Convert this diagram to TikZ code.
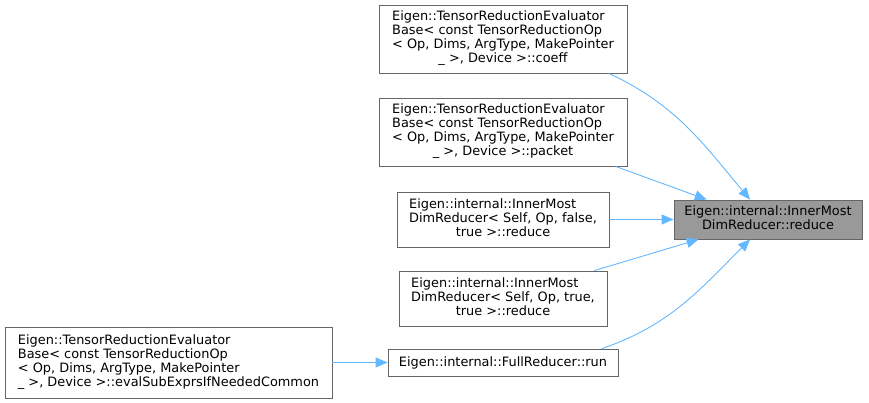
\documentclass[tikz,border=0pt]{standalone}
\usepackage{fontspec}
\setmainfont{DejaVu Sans}
\usetikzlibrary{arrows.meta}
\definecolor{edgeblue}{HTML}{63B8FF}
\definecolor{boxline}{HTML}{666666}
\definecolor{rootfill}{HTML}{999999}
\newcommand{\dlines}[2]{\begin{tabular}{@{}l@{}}#1\\\multicolumn{1}{@{}c@{}}{#2}\end{tabular}}
\tikzset{fn/.style={draw=boxline,fill=white,line width=0.8pt,inner sep=0pt,
    font=\fontsize{12.9}{14}\selectfont}}

\begin{document}
\begin{tikzpicture}[x=1pt,y=-1pt]
        \useasboundingbox (0,0) rectangle (869,403);

        \node[fn,fill=rootfill,minimum width=188pt,minimum height=39pt] (red) at (768,219.5)
            {\dlines{Eigen::internal::InnerMost}{DimReducer::reduce}};
        \node[fn,minimum width=248pt,minimum height=68pt] (coeff) at (503,39)
            {\dlines{Eigen::TensorReductionEvaluator\\Base< const TensorReductionOp\\< Op, Dims, ArgType, MakePointer}{\_ >, Device >::coeff}};
        \node[fn,minimum width=248pt,minimum height=68pt] (packet) at (503,132)
            {\dlines{Eigen::TensorReductionEvaluator\\Base< const TensorReductionOp\\< Op, Dims, ArgType, MakePointer}{\_ >, Device >::packet}};
        \node[fn,minimum width=212pt,minimum height=55pt] (redf) at (503,219.5)
            {\dlines{Eigen::internal::InnerMost\\DimReducer< Self, Op, false,}{true >::reduce}};
        \node[fn,minimum width=208pt,minimum height=55pt] (redt) at (503,298.5)
            {\dlines{Eigen::internal::InnerMost\\DimReducer< Self, Op, true,}{true >::reduce}};
        \node[fn,minimum width=230pt,minimum height=27pt] (full) at (503,362.5)
            {Eigen::internal::FullReducer::run};
        \node[fn,minimum width=327pt,minimum height=71pt] (evalsub) at (168.5,362.5)
            {\dlines{Eigen::TensorReductionEvaluator\\Base< const TensorReductionOp\\< Op, Dims, ArgType, MakePointer}{\_ >, Device >::evalSubExprsIfNeededCommon}};

        \path[->, color=edgeblue, line width=0.9pt, >={Triangle[length=12pt,width=10pt]}]
        (coeff.-18.4) edge[out=-25,in=130] (red.132)
        (packet.-17.6) edge (red.162)
        (redf.east) edge (red.west)
        (redt.17) edge (red.196)
        (full.8.6) edge[out=19,in=225] (red.228)
        (evalsub.east) edge (full.west);
\end{tikzpicture}
\end{document}
